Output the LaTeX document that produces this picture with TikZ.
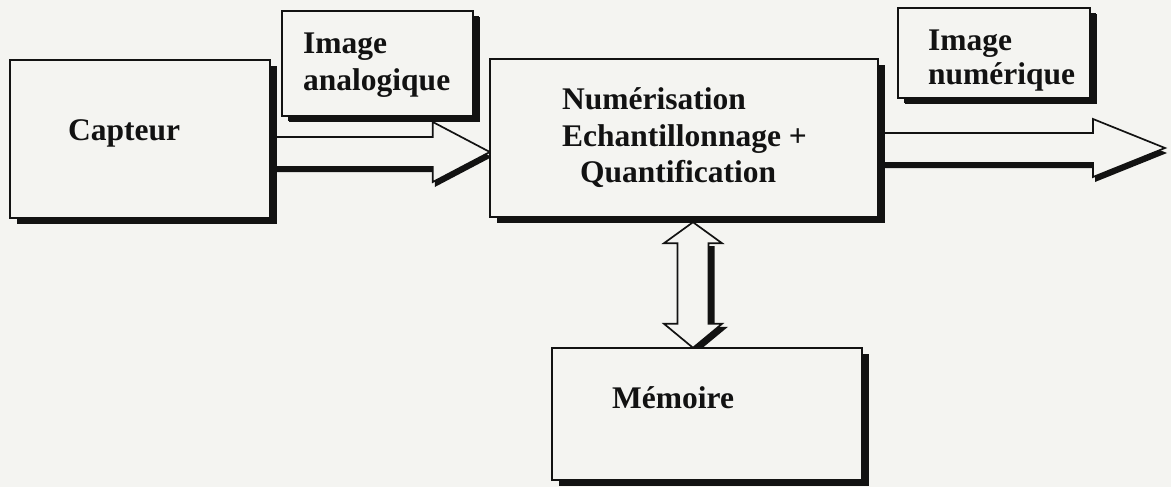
\documentclass[tikz,border=0pt]{standalone}
\usepackage{fontspec}
\setmainfont{Liberation Serif}
\usetikzlibrary{calc,shadows}
\definecolor{paper}{RGB}{244,244,241}
\definecolor{ink}{RGB}{18,18,18}
\begin{document}
\begin{tikzpicture}[x=1pt,y=-1pt,
  box/.style={draw=ink, line width=1.8pt, fill=paper, inner sep=0pt,
    drop shadow={shadow xshift=7pt, shadow yshift=-6pt, opacity=1, fill=ink}},
  smallbox/.style={box,
    drop shadow={shadow xshift=6pt, shadow yshift=-5pt, opacity=1, fill=ink}},
  lbl/.style={font=\bfseries\fontsize{31.5}{36.5}\selectfont, inner sep=0pt,
    align=left, text=ink},
  barrow/.style={draw=ink, line width=1.7pt, fill=paper, line join=miter,
    drop shadow={shadow xshift=2pt, shadow yshift=-5pt, opacity=1, fill=ink}},
  varrow/.style={draw=ink, line width=1.7pt, fill=paper, line join=miter}]
% paper
\fill[paper] (0,0) rectangle (1171,487);
\useasboundingbox (0,0) rectangle (1171,487);

% block positions (boxes are placed first, drawn again on top of the arrows)
\path (140,139) node[minimum width=260pt, minimum height=158pt, inner sep=0pt] (cap) {};
\path (684,138) node[minimum width=388pt, minimum height=158pt, inner sep=0pt] (num) {};
\path (707,414) node[minimum width=310pt, minimum height=132pt, inner sep=0pt] (mem) {};
\coordinate (y1) at (0,152);
\coordinate (y2) at (0,148);
\coordinate (vx) at (693,0);
\coordinate (out) at (1165,148);

% block arrow: sensor -> digitisation
\draw[barrow]
  ($(cap.east|-y1)+(0,-15)$) -- ($(num.west|-y1)+(-57,-15)$) --
  ($(num.west|-y1)+(-57,-30)$) -- (num.west|-y1) --
  ($(num.west|-y1)+(-57,30)$) -- ($(num.west|-y1)+(-57,15)$) --
  ($(cap.east|-y1)+(0,15)$) -- cycle;

% block arrow: digitisation -> output
\draw[barrow]
  ($(num.east|-y2)+(0,-15)$) -- ($(out)+(-72,-15)$) --
  ($(out)+(-72,-29)$) -- (out) --
  ($(out)+(-72,29)$) -- ($(out)+(-72,15)$) --
  ($(num.east|-y2)+(0,15)$) -- cycle;

% double block arrow: digitisation <-> memory
\coordinate (vt0) at (vx|-num.south);
\coordinate (vt) at ($(vt0)+(0,5)$);
\coordinate (vb) at (vx|-mem.north);
\fill[ink]
  ($(vt)+(15.5,24)$) -- ($(vt)+(21.5,24)$) -- ($(vb)+(21.5,-21)$) --
  ($(vb)+(35,-21)$) -- ($(vb)+(6,3)$) -- (vb) -- ($(vb)+(29,-24)$) --
  ($(vb)+(15.5,-24)$) -- cycle;
\draw[varrow]
  (vt) -- ($(vt)+(29,21)$) -- ($(vt)+(15.5,21)$) --
  ($(vb)+(15.5,-24)$) -- ($(vb)+(29,-24)$) -- (vb) --
  ($(vb)+(-29,-24)$) -- ($(vb)+(-15.5,-24)$) --
  ($(vt)+(-15.5,21)$) -- ($(vt)+(-29,21)$) -- cycle;

% boxes
\node[box, minimum width=260pt, minimum height=158pt] (capbox) at (cap) {};
\node[box, minimum width=388pt, minimum height=158pt] (numbox) at (num) {};
\node[box, minimum width=310pt, minimum height=132pt] (membox) at (mem) {};
\node[smallbox, minimum width=191pt, minimum height=105pt] (ana) at (377.5,63.5) {};
\node[smallbox, minimum width=192pt, minimum height=90pt] (dig) at (994,53) {};

% labels
\node[lbl, anchor=base west] (capt) at (68,140) {Capteur};
\node[lbl, anchor=west] (anat) at (303,65) {Image\\analogique};
\node[lbl, anchor=west] (digt) at (928,61) {Image\\[-2.5pt]numérique};
\node[lbl, anchor=west] (numt) at (562,138)
  {Numérisation\\Echantillonnage +\\\hspace*{18pt}Quantification};
\node[lbl, anchor=base west] (memt) at (612,408) {Mémoire};
\end{tikzpicture}
\end{document}
